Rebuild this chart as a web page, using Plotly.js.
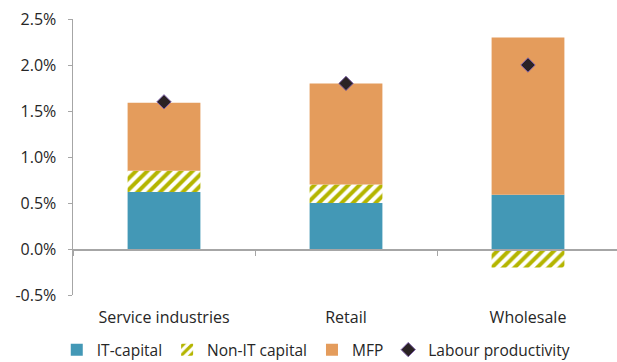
<!DOCTYPE html>
<html>
<head>
<meta charset="utf-8">
<script src="https://cdn.plot.ly/plotly-3.0.1.min.js"></script>
<style>
  html, body { margin: 0; padding: 0; background: #fff; }
  #chart { width: 617px; height: 362px; }
</style>
</head>
<body>
<div id="chart"></div>
<script>
// Contributions to labour productivity growth, percentage points
const categories = ['Service industries', 'Retail', 'Wholesale'];
const itCapital = [0.62, 0.50, 0.59];
const nonItCapital = [0.23, 0.20, -0.20];
const mfp = [0.74, 1.10, 1.71];
const labourProductivity = [1.60, 1.80, 2.00];

const yTickVals = [-0.5, 0, 0.5, 1.0, 1.5, 2.0, 2.5];
const yTickText = ['-0.5%', '0.0%', '0.5%', '1.0%', '1.5%', '2.0%', '2.5%'];

const FONT = '"Open Sans", Lato, sans-serif';
const TEXT = '#262626';
const AXIS = '#a6a6a6';

const traces = [
  {
    type: 'bar', name: 'IT-capital', x: categories, y: itCapital,
    width: 0.4, marker: { color: '#4398b6', line: { width: 0 } }
  },
  {
    type: 'bar', name: 'Non-IT capital', x: categories, y: nonItCapital,
    width: 0.4,
    marker: {
      color: '#ffffff', line: { width: 0 },
      pattern: { shape: '/', fgcolor: '#b4b500', bgcolor: '#ffffff', size: 8, solidity: 0.5 }
    }
  },
  {
    type: 'bar', name: 'MFP', x: categories, y: mfp,
    width: 0.4, marker: { color: '#e49c5c', line: { width: 0 } }
  },
  {
    type: 'scatter', mode: 'markers', name: 'Labour productivity',
    x: categories, y: labourProductivity,
    marker: { symbol: 'diamond', size: 11, color: '#2a2224', line: { color: '#7b5ea7', width: 1 } }
  }
];

const layout = {
  width: 617, height: 362,
  margin: { l: 73, r: 0, t: 19, b: 67 },
  paper_bgcolor: '#ffffff', plot_bgcolor: '#ffffff',
  barmode: 'relative',
  font: { family: FONT, size: 16, color: TEXT },
  showlegend: true,
  legend: {
    orientation: 'h', xref: 'container', yref: 'container',
    x: 0.092, xanchor: 'left', y: 0.033, yanchor: 'middle',
    font: { family: FONT, size: 15.5, color: TEXT },
    traceorder: 'normal', itemwidth: 30, tracegroupgap: 0
  },
  xaxis: {
    type: 'category', range: [-0.5, 2.489],
    anchor: 'free', position: 1 / 6,
    showline: true, linecolor: AXIS, linewidth: 1.5,
    ticks: 'outside', tickson: 'boundaries', ticklen: 5, tickcolor: AXIS, tickwidth: 1,
    ticklabelstandoff: 53,
    showgrid: false, zeroline: false,
    tickfont: { family: FONT, size: 16, color: TEXT }
  },
  yaxis: {
    range: [-0.5, 2.5],
    tickvals: yTickVals, ticktext: yTickText,
    showline: true, linecolor: AXIS, linewidth: 1.5,
    ticks: 'outside', ticklen: 4, tickcolor: AXIS,
    ticklabelstandoff: 8,
    showgrid: false, zeroline: false,
    tickfont: { family: FONT, size: 16, color: TEXT }
  }
};

Plotly.newPlot('chart', traces, layout, { displayModeBar: false, staticPlot: true });
</script>
</body>
</html>
